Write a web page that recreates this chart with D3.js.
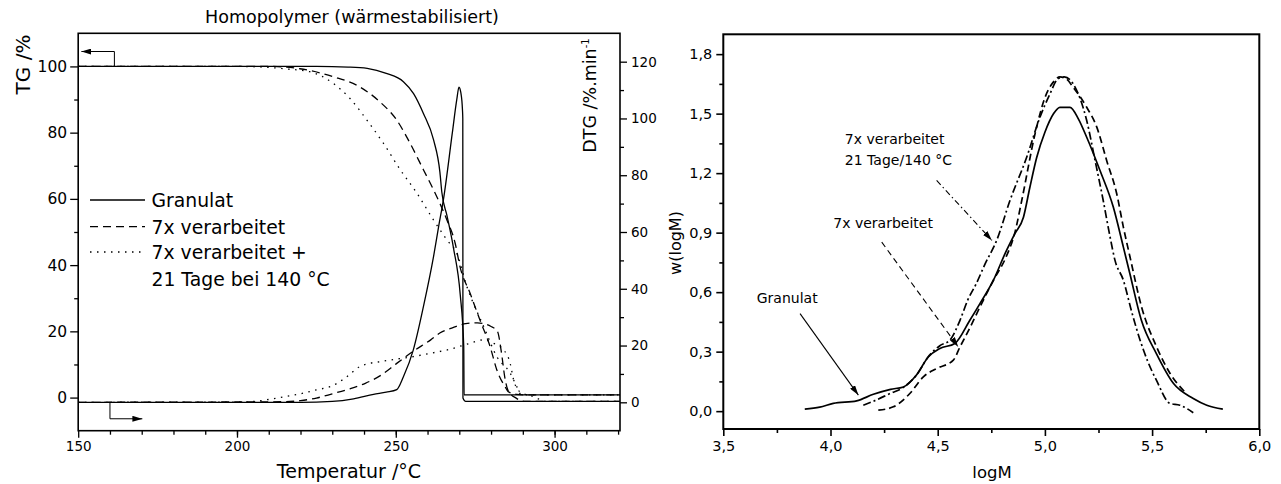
<!DOCTYPE html>
<html>
<head>
<meta charset="utf-8">
<script src="https://cdn.jsdelivr.net/npm/d3@7"></script>
<style>
  body { margin: 0; background: #fff; }
  svg text { font-family: "DejaVu Sans", sans-serif; fill: #000; }
</style>
</head>
<body>
<div id="chart"></div>
<script>
// ---- left: TG / DTG vs temperature ----
const tgGranulat = [[150,100],[225,100],[235,99.8],[241,99.4],[247,97.9],[252.4,95.4],[255.6,91.8],[258.7,85.8],[261.9,77.8],[263.9,68],[264.5,62],[266.1,55],[268.2,45],[270.3,31],[271.4,15.4],[271.5,0.8],[320.6,0.8]];
const tgVerarbeitet = [[150,100],[210,100],[219.8,99.3],[230.3,96.9],[238.7,93.8],[245,89.3],[250.3,83.8],[254.5,76.8],[258.7,68.8],[261.9,62.7],[266.1,53.6],[268.7,46.6],[270.2,39.6],[273.4,31.5],[276.5,23.4],[279.7,15.4],[281.8,8.4],[284.4,3.3],[285.4,1.8],[288,1],[292,0.8],[320.6,0.8]];
const tgGealtert = [[150,100],[200,100],[210,99.7],[216,99.2],[222.9,98.4],[230.3,94.9],[235.6,90.3],[240.9,83.8],[246.1,76.8],[251.4,68.8],[256.6,61.8],[261.9,53.6],[266.1,47.6],[269.2,43.6],[272.4,33.5],[277.7,21.4],[281.8,12.4],[286,7.4],[288.1,3.3],[289.1,1.3],[292,0.8],[320.6,0.8]];

const dtgGranulat = [[150,0],[220,0],[230,0.3],[236.7,1.2],[243,2.8],[247,3.6],[250.3,4.5],[252.4,9],[255.5,18.4],[258.7,33.7],[261.9,51.4],[263.5,62],[265,71.4],[267.8,94.9],[269.2,106.6],[269.9,111],[270.5,109],[271,103],[271.1,100],[271.15,1.5],[272,0.3],[320.6,0.3]];
const dtgVerarbeitet = [[150,0],[215,0.2],[220,0.6],[225,1.5],[230,3],[235,4.6],[240.4,6.7],[245,9.3],[250.4,13.8],[255.5,18],[261,22],[264,24.5],[268,26.3],[272,27.7],[275.7,28],[280,26.7],[282,25],[283.3,17.3],[284.3,9],[285.3,4.3],[288,1.4],[291,0.3],[320.6,0.3]];
const dtgGealtert = [[150,0],[200,0.1],[205,0.3],[210,1],[215,2],[220,3],[225,4.4],[229.3,5.5],[234,8.5],[238.7,12.6],[242,13.8],[245,14.3],[250,15.2],[255.5,16.1],[261,17.3],[266,18.4],[273.4,20.8],[277.7,22],[280.8,20.8],[284,18.4],[286,13.8],[287.1,7.9],[289.1,3.7],[293.3,2],[297.5,0.3],[320.6,0.3]];

const legendLabels = ["Granulat", "7x verarbeitet", "7x verarbeitet +"];
const tempTicks = [150, 200, 250, 300];
const tgTicks = [0, 20, 40, 60, 80, 100];
const dtgTicks = [0, 20, 40, 60, 80, 100, 120];

// ---- right: molar mass distribution ----
const mwGranulat = [[3.88,0.01],[3.95,0.02],[4.013,0.039],[4.122,0.052],[4.2,0.085],[4.28,0.11],[4.34,0.122],[4.4,0.181],[4.456,0.273],[4.51,0.316],[4.58,0.341],[4.65,0.458],[4.697,0.542],[4.76,0.66],[4.814,0.794],[4.86,0.895],[4.9,0.978],[4.93,1.129],[4.962,1.28],[5.0,1.406],[5.04,1.499],[5.07,1.532],[5.117,1.532],[5.156,1.474],[5.195,1.381],[5.257,1.213],[5.319,1.029],[5.366,0.827],[5.397,0.69],[5.45,0.458],[5.52,0.29],[5.6,0.139],[5.692,0.064],[5.755,0.03],[5.83,0.01]];
const mwVerarbeitet = [[4.223,0.005],[4.293,0.022],[4.37,0.089],[4.433,0.173],[4.495,0.215],[4.573,0.257],[4.604,0.324],[4.65,0.42],[4.697,0.525],[4.76,0.66],[4.82,0.78],[4.86,0.9],[4.892,1.062],[4.954,1.398],[5.0,1.58],[5.04,1.66],[5.07,1.685],[5.1,1.675],[5.132,1.633],[5.195,1.532],[5.242,1.432],[5.288,1.264],[5.335,1.096],[5.366,0.928],[5.397,0.777],[5.451,0.525],[5.521,0.324],[5.584,0.19],[5.65,0.1]];
const mwGealtert = [[4.153,0.03],[4.2,0.05],[4.278,0.089],[4.34,0.12],[4.4,0.18],[4.46,0.28],[4.51,0.33],[4.557,0.358],[4.604,0.458],[4.64,0.56],[4.68,0.643],[4.72,0.74],[4.775,0.861],[4.837,1.062],[4.915,1.28],[4.977,1.482],[5.024,1.6],[5.06,1.675],[5.09,1.685],[5.132,1.65],[5.195,1.465],[5.234,1.264],[5.272,1.062],[5.304,0.878],[5.327,0.76],[5.366,0.66],[5.405,0.5],[5.444,0.358],[5.48,0.25],[5.52,0.156],[5.583,0.039],[5.63,0.03],[5.692,-0.008]];

const logMTicks = [3.5, 4.0, 4.5, 5.0, 5.5, 6.0];
const wTicks = [0, 0.3, 0.6, 0.9, 1.2, 1.5, 1.8];

var comma = d => d3.format(".1f")(d).replace(".", ",");

var svg = d3.select("#chart").append("svg")
  .attr("width", 1281)
  .attr("height", 484);

var defs = svg.append("defs");
defs.append("marker")
  .attr("id", "head")
  .attr("viewBox", "0 0 10 6")
  .attr("refX", 10).attr("refY", 3)
  .attr("markerWidth", 10).attr("markerHeight", 6)
  .attr("markerUnits", "userSpaceOnUse")
  .attr("orient", "auto")
  .append("path")
  .attr("d", "M0,0L10,3L0,6Z")
  .attr("fill", "black");

function styleAxis(g, w) {
  g.selectAll("path, line").attr("stroke", "black").attr("stroke-width", w);
  g.select(".domain").remove();
}

// ================= left chart =================
var x1 = d3.scaleLinear().domain([150, 320.6]).range([78.2, 620]);
var yTG = d3.scaleLinear().domain([-10, 110]).range([430.7, 33.3]);
var yDTG = d3.scaleLinear().domain([-10, 130]).range([430.7, 33.3]);

var left = svg.append("g");

// minor ticks
left.append("g").attr("transform", "translate(0,430.7)")
  .call(d3.axisBottom(x1).tickValues(d3.range(160, 321, 10)).tickSize(4).tickFormat(""))
  .call(styleAxis, 1.3);
left.append("g").attr("transform", "translate(78.2,0)")
  .call(d3.axisLeft(yTG).tickValues([10, 30, 50, 70, 90]).tickSize(4).tickFormat(""))
  .call(styleAxis, 1.3);
left.append("g").attr("transform", "translate(620,0)")
  .call(d3.axisRight(yDTG).tickValues(d3.range(10, 120, 20)).tickSize(4).tickFormat(""))
  .call(styleAxis, 1.3);

// major ticks
var xa1 = left.append("g").attr("transform", "translate(0,430.7)")
  .call(d3.axisBottom(x1).tickValues(tempTicks).tickSize(7).tickPadding(4).tickFormat(d3.format("d")))
  .call(styleAxis, 1.3);
xa1.selectAll("text").attr("font-size", 13.5);
var ya1 = left.append("g").attr("transform", "translate(78.2,0)")
  .call(d3.axisLeft(yTG).tickValues(tgTicks).tickSize(8).tickPadding(3).tickFormat(d3.format("d")))
  .call(styleAxis, 1.3);
ya1.selectAll("text").attr("font-size", 15.5);
var ya2 = left.append("g").attr("transform", "translate(620,0)")
  .call(d3.axisRight(yDTG).tickValues(dtgTicks).tickSize(7).tickPadding(4).tickFormat(d3.format("d")))
  .call(styleAxis, 1.3);
ya2.selectAll("text").attr("font-size", 13.5);

left.append("rect")
  .attr("x", 78.2).attr("y", 33.3)
  .attr("width", 620 - 78.2).attr("height", 430.7 - 33.3)
  .attr("fill", "none").attr("stroke", "black").attr("stroke-width", 1.6);

var lineTG = d3.line().x(d => x1(d[0])).y(d => yTG(d[1])).curve(d3.curveMonotoneX);
var lineDTG = d3.line().x(d => x1(d[0])).y(d => yDTG(d[1])).curve(d3.curveMonotoneX);

var leftDash = ["none", "8,5", "1.5,5.5"];

[tgGranulat, tgVerarbeitet, tgGealtert].forEach((s, i) => {
  left.append("path").attr("d", lineTG(s))
    .attr("fill", "none").attr("stroke", "black").attr("stroke-width", 1.3)
    .attr("stroke-dasharray", leftDash[i]);
});
[dtgGranulat, dtgVerarbeitet, dtgGealtert].forEach((s, i) => {
  left.append("path").attr("d", lineDTG(s))
    .attr("fill", "none").attr("stroke", "black").attr("stroke-width", 1.3)
    .attr("stroke-dasharray", leftDash[i]);
});

// axis assignment arrows
var straight = d3.line().x(d => x1(d[0]));
left.append("path")
  .attr("d", d3.line().x(d => x1(d[0])).y(d => yTG(d[1]))([[161.4, 100], [161.4, 104.5], [151, 104.5]]))
  .attr("fill", "none").attr("stroke", "black").attr("stroke-width", 1)
  .attr("marker-end", "url(#head)");
left.append("path")
  .attr("d", d3.line().x(d => x1(d[0])).y(d => yDTG(d[1]))([[160, 0], [160, -5.8], [170.2, -5.8]]))
  .attr("fill", "none").attr("stroke", "black").attr("stroke-width", 1)
  .attr("marker-end", "url(#head)");

// legend
var legY = [200, 226.7, 252];
legendLabels.forEach((t, i) => {
  left.append("line")
    .attr("x1", 90).attr("x2", 145).attr("y1", legY[i]).attr("y2", legY[i])
    .attr("stroke", "black").attr("stroke-width", 1.3)
    .attr("stroke-dasharray", leftDash[i]);
  left.append("text")
    .attr("x", 151.5).attr("y", legY[i] + 7)
    .attr("font-size", 18.8)
    .text(t);
});
left.append("text")
  .attr("x", 151.5).attr("y", 286)
  .attr("font-size", 18.8)
  .text("21 Tage bei 140 °C");

// titles
left.append("text")
  .attr("x", 352).attr("y", 23)
  .attr("text-anchor", "middle").attr("font-size", 17.5)
  .text("Homopolymer (wärmestabilisiert)");
left.append("text")
  .attr("x", 349).attr("y", 478)
  .attr("text-anchor", "middle").attr("font-size", 19)
  .text("Temperatur /°C");
left.append("text")
  .attr("transform", "translate(30,64.5) rotate(-90)")
  .attr("text-anchor", "middle").attr("font-size", 20)
  .text("TG /%");
var dtgLab = left.append("text")
  .attr("transform", "translate(596,95.5) rotate(-90)")
  .attr("text-anchor", "middle").attr("font-size", 17.5);
dtgLab.append("tspan").text("DTG /%.min");
dtgLab.append("tspan").attr("dy", -7).attr("font-size", 10).text("-1");

// ================= right chart =================
var x2 = d3.scaleLinear().domain([3.5, 6.0]).range([723.3, 1259.3]);
var y2 = d3.scaleLinear().domain([-0.09, 1.9]).range([429, 34.3]);

var right = svg.append("g");

right.append("g").attr("transform", "translate(0,429)")
  .call(d3.axisBottom(x2).tickValues(d3.range(3.75, 6, 0.5)).tickSize(4).tickFormat(""))
  .call(styleAxis, 1.6);
right.append("g").attr("transform", "translate(723.3,0)")
  .call(d3.axisLeft(y2).tickValues(d3.range(0.15, 1.9, 0.3)).tickSize(4).tickFormat(""))
  .call(styleAxis, 1.6);

var xa3 = right.append("g").attr("transform", "translate(0,429)")
  .call(d3.axisBottom(x2).tickValues(logMTicks).tickSize(7).tickPadding(5).tickFormat(comma))
  .call(styleAxis, 1.6);
xa3.selectAll("text").attr("font-size", 14.5);
var ya3 = right.append("g").attr("transform", "translate(723.3,0)")
  .call(d3.axisLeft(y2).tickValues(wTicks).tickSize(7).tickPadding(4).tickFormat(comma))
  .call(styleAxis, 1.6);
ya3.selectAll("text").attr("font-size", 14.5);

right.append("rect")
  .attr("x", 723.3).attr("y", 34.3)
  .attr("width", 1259.3 - 723.3).attr("height", 429 - 34.3)
  .attr("fill", "none").attr("stroke", "black").attr("stroke-width", 2);

var lineMW = d3.line().x(d => x2(d[0])).y(d => y2(d[1])).curve(d3.curveMonotoneX);
var rightDash = ["none", "7,4", "8,3,2,3"];
[mwGranulat, mwVerarbeitet, mwGealtert].forEach((s, i) => {
  right.append("path").attr("d", lineMW(s))
    .attr("fill", "none").attr("stroke", "black").attr("stroke-width", 1.7)
    .attr("stroke-dasharray", rightDash[i]);
});

// pointers and annotations
var pointers = [
  { from: [3.858, 0.492], to: [4.13, 0.081], dash: "none" },
  { from: [4.239, 0.852], to: [4.596, 0.324], dash: "6,4" },
  { from: [4.495, 1.163], to: [4.753, 0.861], dash: "6,3,1.5,3" }
];
pointers.forEach(p => {
  right.append("line")
    .attr("x1", x2(p.from[0])).attr("y1", y2(p.from[1]))
    .attr("x2", x2(p.to[0])).attr("y2", y2(p.to[1]))
    .attr("stroke", "black").attr("stroke-width", 1.1)
    .attr("stroke-dasharray", p.dash)
    .attr("marker-end", "url(#head)");
});

var notes = [
  { t: "Granulat", at: [3.656, 0.544] },
  { t: "7x verarbeitet", at: [4.013, 0.921] },
  { t: "7x verarbeitet", at: [4.067, 1.349] },
  { t: "21 Tage/140 °C", at: [4.067, 1.239] }
];
notes.forEach(n => {
  right.append("text")
    .attr("x", x2(n.at[0])).attr("y", y2(n.at[1]))
    .attr("font-size", 14)
    .text(n.t);
});

right.append("text")
  .attr("x", 992).attr("y", 478)
  .attr("text-anchor", "middle").attr("font-size", 16.5)
  .text("logM");
right.append("text")
  .attr("transform", "translate(681,243) rotate(-90)")
  .attr("text-anchor", "middle").attr("font-size", 16)
  .text("w(logM)");
</script>
</body>
</html>
